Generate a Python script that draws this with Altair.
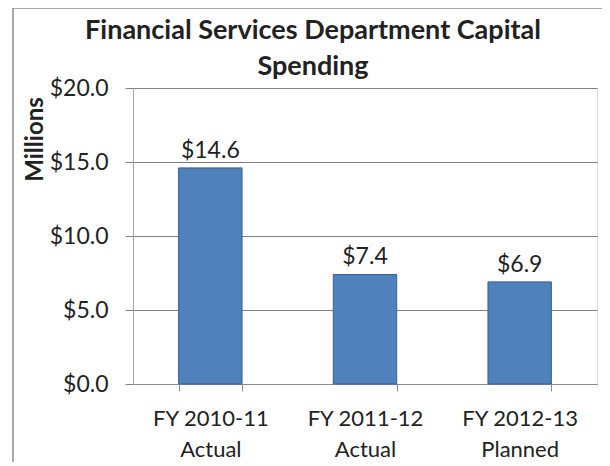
import altair as alt
import pandas as pd

categories = ["FY 2010-11\nActual", "FY 2011-12\nActual", "FY 2012-13\nPlanned"]
values = [14.6, 7.4, 6.9]

df = pd.DataFrame({"cat": categories, "val": values})

FONT = "Lato"
TXT = "#222222"

base = alt.Chart(df)

xenc = alt.X(
    "cat:N",
    sort=categories,
    scale=alt.Scale(paddingInner=0.59, paddingOuter=0.295),
    axis=alt.Axis(
        title=None,
        labelAngle=0,
        labelExpr="split(datum.label, '\\n')",
        labelFont=FONT,
        labelFontSize=22,
        labelColor=TXT,
        labelLineHeight=31,
        labelPadding=17,
        tickBand="extent",
        tickSize=7,
        tickColor="#8c8c8c",
        domainColor="#8c8c8c",
        grid=False,
    ),
)

yenc = alt.Y(
    "val:Q",
    scale=alt.Scale(domain=[0, 20]),
    axis=alt.Axis(
        values=[0, 5, 10, 15, 20],
        format="$.1f",
        labelFont=FONT,
        labelFontSize=23,
        labelColor=TXT,
        labelPadding=17,
        tickSize=8,
        tickColor="#808080",
        gridColor="#808080",
        gridWidth=1.2,
        domainColor="#a6a6a6",
        title="Millions",
        titleFont=FONT,
        titleFontSize=24,
        titleFontWeight="bold",
        titleColor=TXT,
        titleAngle=270,
        titleAlign="center",
        titleBaseline="alphabetic",
        titleX=-91,
        titleY=51,
    ),
)

bars = base.mark_bar(color="#4F81BD", stroke="#3A5F8E", strokeWidth=1).encode(x=xenc, y=yenc)

labels = base.mark_text(
    font=FONT, fontSize=23, color=TXT, dy=-10, baseline="alphabetic"
).encode(
    x=alt.X("cat:N", sort=categories),
    y="val:Q",
    text=alt.Text("val:Q", format="$.1f"),
)

border = alt.Chart(alt.Data(values=[{}])).mark_rect(
    fill=None, stroke="#8c8c8c", strokeWidth=1.5
).encode(
    x=alt.value(-120), x2=alt.value(600), y=alt.value(-80), y2=alt.value(500)
)

chart = alt.layer(border, bars, labels).properties(
    width=464,
    height=296,
    padding={"left": 125, "top": 80, "right": 5, "bottom": 78},
    autosize=alt.AutoSizeParams(type="none"),
    title=alt.TitleParams(
        text=["Financial Services Department Capital", "Spending"],
        font=FONT,
        fontSize=27,
        fontWeight="bold",
        color=TXT,
        anchor="middle",
        dx=-52,
        dy=74,
        lineHeight=36,
        offset=0,
    ),
).configure_view(fill="#E6E6E6", stroke=None).configure(background="white")

chart.save("out.html", embed_options={"renderer": "svg", "actions": False})
